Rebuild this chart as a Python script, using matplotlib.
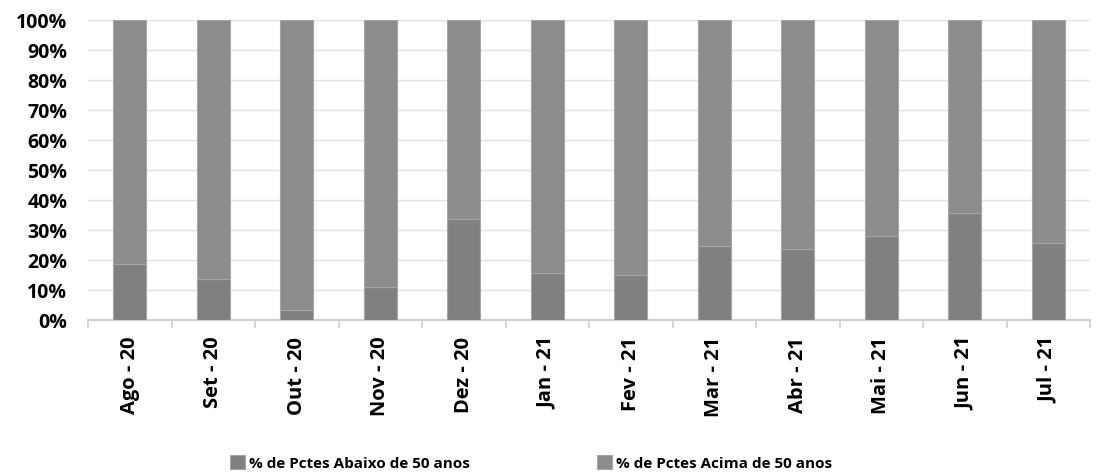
import matplotlib.pyplot as plt
import numpy as np
from matplotlib.ticker import PercentFormatter

months = ['Ago - 20', 'Set - 20', 'Out - 20', 'Nov - 20', 'Dez - 20', 'Jan - 21',
          'Fev - 21', 'Mar - 21', 'Abr - 21', 'Mai - 21', 'Jun - 21', 'Jul - 21']
abaixo_50 = [18.6, 13.8, 3.2, 11.1, 33.6, 15.6, 14.9, 24.6, 23.6, 27.9, 35.6, 25.6]
acima_50 = [100 - v for v in abaixo_50]

plt.rcParams['font.family'] = ['Open Sans', 'DejaVu Sans']
plt.rcParams['font.weight'] = 'bold'

fig = plt.figure(figsize=(10.97, 4.75), dpi=100)
ax = fig.add_axes([88 / 1097, 1 - 320 / 475, (1090 - 88) / 1097, 300 / 475])

x = np.arange(len(months))
w = 0.4
ax.bar(x, abaixo_50, w, color='#808080', edgecolor='#a6a6a6', linewidth=0.8,
       label='% de Pctes Abaixo de 50 anos', zorder=3)
ax.bar(x, acima_50, w, bottom=abaixo_50, color='#8c8c8c', edgecolor='#a6a6a6',
       linewidth=0.8, label='% de Pctes Acima de 50 anos', zorder=3)

ax.set_xlim(-0.5, len(months) - 0.5)
ax.set_ylim(0, 100)
ax.set_yticks(np.arange(0, 101, 10))
ax.yaxis.set_major_formatter(PercentFormatter(decimals=0))
ax.grid(axis='y', color='#e3e3e3', linewidth=1, zorder=0)

ax.set_xticks(x)
ax.set_xticklabels(months, rotation=90, fontsize=14.5, fontweight='bold')
ax.tick_params(axis='x', which='major', length=0, pad=12)
ax.set_xticks(np.arange(-0.5, len(months), 1), minor=True)
ax.tick_params(axis='x', which='minor', length=6, color='#d0d0d0', width=1.2)
ax.tick_params(axis='y', length=0, labelsize=14, pad=15)
for lab in ax.get_yticklabels():
    lab.set_fontweight('bold')

for s in ['top', 'right', 'left']:
    ax.spines[s].set_visible(False)
ax.spines['bottom'].set_color('#d0d0d0')
ax.spines['bottom'].set_linewidth(1.5)

# legenda embaixo, centralizada como no Excel
h, l = ax.get_legend_handles_labels()
fig.legend(h, l, loc='center', bbox_to_anchor=(531 / 1097, 1 - 463 / 475), ncol=2,
           frameon=False, handlelength=1.0, handleheight=1.0,
           handletextpad=0.25, columnspacing=8.3, prop={'weight': 'bold', 'size': 11})

fig.savefig('out.png', dpi=100)
